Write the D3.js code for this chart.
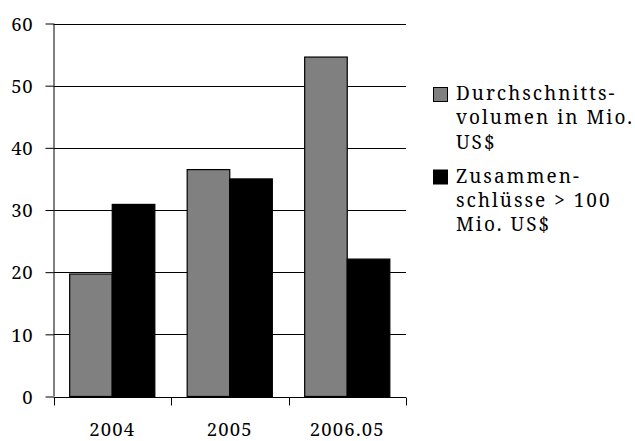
<!DOCTYPE html>
<html><head><meta charset="utf-8">
<script src="https://cdn.jsdelivr.net/npm/d3@7"></script>
<style>
html,body{margin:0;padding:0;background:#fff;}
</style></head>
<body>
<script>
const categories = ["2004","2005","2006.05"];
const seriesNames = ["Durchschnittsvolumen in Mio. US$","Zusammenschlüsse > 100 Mio. US$"];
const volumen = [19.7, 36.5, 54.6];
const zusammen = [30.9, 35.0, 22.1];
const yTicks = [0,10,20,30,40,50,60];
const legendLines = [["Durchschnitts-","volumen in Mio.","US$"],["Zusammen-","schlüsse > 100","Mio. US$"]];
const colors = ["#808080","#000000"];

const FONT='"Noto Serif","Liberation Serif",serif';
const W=635,H=441;
const pL=53.5,pR=406,pT=23.5,pB=396.5;
const svg=d3.select("body").append("svg").attr("width",W).attr("height",H);

const x=d3.scaleBand().domain(categories).range([pL,pR]);
const xi=d3.scaleBand().domain([0,1]).range([0,x.bandwidth()]).paddingInner(0).paddingOuter(0.38);
const y=d3.scaleLinear().domain([0,60]).range([pB,pT]);

// gridlines
svg.append("g").selectAll("line").data(yTicks.filter(d=>d>0)).join("line")
  .attr("x1",pL).attr("x2",pR).attr("y1",d=>Math.round(y(d))+0.5).attr("y2",d=>Math.round(y(d))+0.5)
  .attr("stroke","#000").attr("stroke-width",1);

// bars
const series=[volumen,zusammen];
series.forEach((vals,si)=>{
  svg.append("g").selectAll("rect").data(vals).join("rect")
    .attr("x",(d,i)=>x(categories[i])+xi(si))
    .attr("width",xi.bandwidth())
    .attr("y",d=>y(d))
    .attr("height",d=>y(0)-y(d))
    .attr("fill",colors[si]).attr("stroke","#000").attr("stroke-width",1.2);
});

// y axis
const yAxis=d3.axisLeft(y).tickValues(yTicks).tickSize(8).tickPadding(12);
const gy=svg.append("g").attr("transform",`translate(${pL},0)`).call(yAxis);
gy.select(".domain").attr("d",`M0.5,${pT}V${pB}`).attr("stroke","#000");
gy.selectAll(".tick line").attr("stroke","#000");
gy.selectAll(".tick text").style("font-family",FONT).style("font-size","18.5px").style("letter-spacing","0.8px").attr("dy","0.36em");

// x axis
const xAxis=d3.axisBottom(x).tickSize(0).tickPadding(26);
const gx=svg.append("g").attr("transform",`translate(0,${Math.round(pB)+0.5})`).call(xAxis);
gx.select(".domain").attr("d",`M${pL},0H${pR}`).attr("stroke","#000");
gx.selectAll(".tick text").style("font-family",FONT).style("font-size","18.5px").style("letter-spacing","1.2px").attr("dy","0.68em");
// category boundary ticks
const bounds=[...categories.map(c=>x(c)),pR];
gx.append("g").selectAll("line").data(bounds).join("line")
  .attr("x1",d=>Math.round(d)+0.5).attr("x2",d=>Math.round(d)+0.5).attr("y1",0).attr("y2",8).attr("stroke","#000");

// legend
const lg=svg.append("g");
const entryY=[87.5,170];
legendLines.forEach((lines,i)=>{
  lg.append("rect").attr("x",433.5).attr("y",entryY[i]).attr("width",14).attr("height",14)
    .attr("fill",colors[i]).attr("stroke","#000").attr("stroke-width",1);
  lg.append("text").attr("x",456).attr("y",entryY[i]+12.5).style("font-family",FONT).style("font-size","19px").style("letter-spacing","2px")
    .selectAll("tspan").data(lines).join("tspan").attr("x",456).attr("dy",(d,j)=>j?24.3:0).text(d=>d);
});
</script>
</body></html>
